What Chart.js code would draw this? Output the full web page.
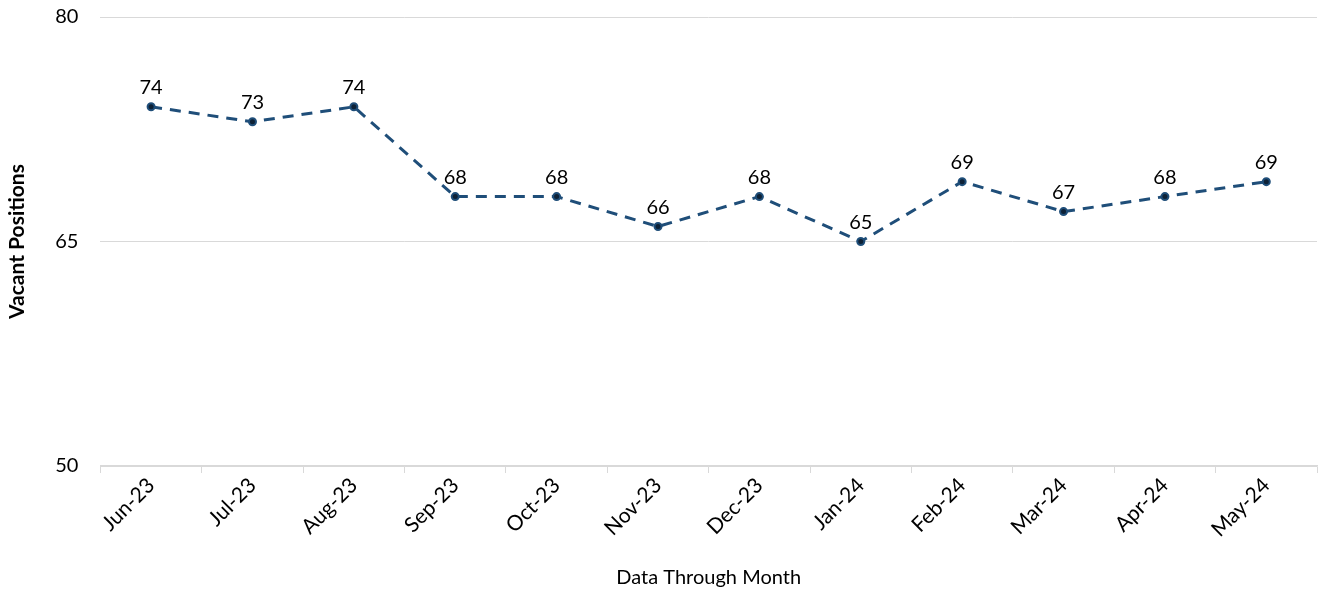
<!DOCTYPE html>
<html>
<head>
<meta charset="utf-8">
<script src="https://cdn.jsdelivr.net/npm/chart.js@4.4.0/dist/chart.umd.min.js"></script>
<style>
  html, body { margin: 0; padding: 0; background: #fff; }
  #wrap { width: 1323px; height: 590px; }
</style>
</head>
<body>
<div id="wrap"><canvas id="vacancyChart" width="1323" height="590"></canvas></div>
<script>
const months = ["Jun-23", "Jul-23", "Aug-23", "Sep-23", "Oct-23", "Nov-23",
                "Dec-23", "Jan-24", "Feb-24", "Mar-24", "Apr-24", "May-24"];
const vacantPositions = [74, 73, 74, 68, 68, 66, 68, 65, 69, 67, 68, 69];
const yTicks = [50, 65, 80];

const lineColor = "#1F4E79";
const fontName = "Lato, 'Open Sans', sans-serif";

// labels above each point
const pointLabels = {
    id: "pointLabels",
    afterDatasetsDraw(chart) {
        const ctx = chart.ctx;
        const meta = chart.getDatasetMeta(0);
        ctx.save();
        ctx.font = "20px " + fontName;
        ctx.fillStyle = "#000";
        ctx.textAlign = "center";
        ctx.textBaseline = "bottom";
        meta.data.forEach((pt, i) => {
            ctx.fillText(String(vacantPositions[i]), pt.x, pt.y - 9);
        });
        ctx.restore();
    }
};

new Chart(document.getElementById("vacancyChart").getContext("2d"), {
    type: "line",
    data: {
        labels: months,
        datasets: [{
            label: "Vacant Positions",
            data: vacantPositions,
            borderColor: lineColor,
            borderWidth: 3,
            borderDash: [11, 8],
            pointRadius: 3.5,
            pointBackgroundColor: "#0d2136",
            pointBorderColor: lineColor,
            pointBorderWidth: 2,
            tension: 0,
            fill: false
        }]
    },
    options: {
        responsive: false,
        animation: false,
        layout: { padding: { top: 17, right: 1, left: 0, bottom: 0 } },
        plugins: {
            legend: { display: false },
            tooltip: { enabled: false }
        },
        scales: {
            x: {
                offset: true,
                afterFit(axis) {
                    // let the rotated first label hang past the plot edge
                    axis.paddingLeft = 0;
                    axis.paddingRight = 0;
                },
                grid: {
                    display: true,
                    drawOnChartArea: false,
                    drawTicks: true,
                    tickLength: 7,
                    color: "#d9d9d9",
                    offset: true
                },
                border: { color: "#d9d9d9", width: 1.5 },
                ticks: {
                    color: "#000",
                    font: { family: fontName, size: 21 },
                    maxRotation: 45,
                    minRotation: 45,
                    padding: 0
                },
                title: {
                    display: true,
                    text: "Data Through Month",
                    color: "#000",
                    font: { family: fontName, size: 20 },
                    padding: { top: 24, bottom: 0 }
                }
            },
            y: {
                min: 50,
                max: 80,
                afterBuildTicks(axis) {
                    axis.ticks = yTicks.map(v => ({ value: v }));
                },
                afterFit(axis) {
                    axis.paddingTop = 0;
                    axis.paddingBottom = 0;
                },
                grid: {
                    color: "#d9d9d9",
                    lineWidth: 1,
                    drawTicks: false
                },
                border: { display: false },
                ticks: {
                    color: "#000",
                    font: { family: fontName, size: 20 },
                    padding: 22
                },
                title: {
                    display: true,
                    text: "Vacant Positions",
                    color: "#000",
                    font: { family: fontName, size: 21, weight: "bold" },
                    padding: { top: 5, bottom: 3 }
                }
            }
        }
    },
    plugins: [pointLabels]
});
</script>
</body>
</html>
